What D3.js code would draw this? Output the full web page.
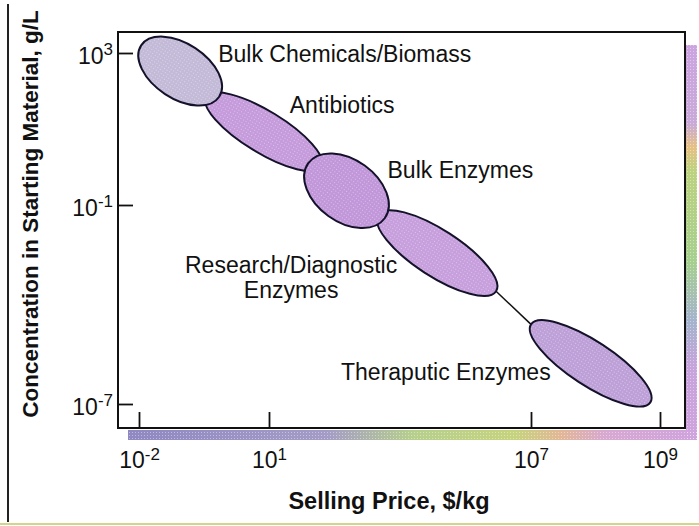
<!DOCTYPE html>
<html>
<head>
<meta charset="utf-8">
<script src="https://cdn.jsdelivr.net/npm/d3@7"></script>
<style>
  body { margin: 0; background: #fff; }
  svg { display: block; }
  text { font-family: "Liberation Sans", Arial, sans-serif; }
</style>
</head>
<body>
<svg id="chart" width="699" height="526"></svg>
<script>
// regions of the chart
const categories = ["Bulk Chemicals/Biomass", "Antibiotics", "Bulk Enzymes",
    "Research/Diagnostic Enzymes", "Theraputic Enzymes"];
// log10 selling price ($/kg) at the two tips of each region
const priceFrom = [-1.95, -0.45, 1.9, 3.5, 7.0];
const priceTo = [-0.15, 2.2, 3.65, 6.2, 8.85];
// log10 concentration (g/L) at the same tips
const concFrom = [3.2, 1.85, 0.1, -1.3, -4.6];
const concTo = [1.85, 0.0, -1.4, -3.6, -6.95];
// width of each region relative to its length
const spread = [0.59, 0.31, 0.66, 0.33, 0.31];
// axis ticks (exponents)
const xTicks = [-2, 1, 7, 9];
const yTicks = [3, -1, -7];

function getConfig() {
    const svg = d3.select("#chart");
    const frame = {left: 118, top: 32, right: 685, bottom: 428};
    return {svg, frame};
}

// the printed axes are not evenly spaced, so the scales are piecewise
function getScales() {
    const x = d3.scaleLinear().domain(xTicks).range([139, 269, 531, 660]);
    const y = d3.scaleLinear().domain(yTicks).range([53, 205, 404]);
    return {x, y};
}

function addDefs(svg) {
    const defs = svg.append("defs");
    const dots = defs.append("pattern")
        .attr("id", "dots")
        .attr("width", 3).attr("height", 3)
        .attr("patternUnits", "userSpaceOnUse");
    dots.append("rect").attr("width", 1).attr("height", 1)
        .attr("fill", "#fff").attr("opacity", 0.4);

    const bottom = defs.append("linearGradient").attr("id", "bandBottom");
    [[0, "#8f88c2"], [0.35, "#a49cc6"], [0.5, "#b6cf8c"], [0.68, "#c6d37e"],
     [0.76, "#e2b796"], [0.84, "#d7a8d2"], [1, "#cfa3dd"]].forEach(s => {
        bottom.append("stop").attr("offset", s[0]).attr("stop-color", s[1]);
    });
    const right = defs.append("linearGradient").attr("id", "bandRight")
        .attr("x1", 0).attr("y1", 0).attr("x2", 0).attr("y2", 1);
    [[0, "#cba4e0"], [0.2, "#c9a9d8"], [0.26, "#e6c182"], [0.32, "#bcd27e"],
     [0.55, "#a6cf8e"], [0.7, "#a4b3cc"], [0.82, "#c7a3dc"], [1, "#cfa3dd"]].forEach(s => {
        right.append("stop").attr("offset", s[0]).attr("stop-color", s[1]);
    });
}

function drawFrame(svg, frame) {
    // coloured halftone shadow along the right and bottom edges
    svg.append("rect")
        .attr("x", frame.right + 1).attr("y", 45)
        .attr("width", 11).attr("height", frame.bottom + 11 - 45)
        .attr("fill", "url(#bandRight)");
    svg.append("rect")
        .attr("x", 128).attr("y", frame.bottom + 2)
        .attr("width", frame.right + 12 - 128).attr("height", 10)
        .attr("fill", "url(#bandBottom)");
    svg.selectAll(".band-dots")
        .data([[frame.right + 1, 45, 11, frame.bottom + 11 - 45],
               [128, frame.bottom + 2, frame.right + 12 - 128, 10]])
        .enter()
        .append("rect")
        .attr("x", d => d[0]).attr("y", d => d[1])
        .attr("width", d => d[2]).attr("height", d => d[3])
        .attr("fill", "url(#dots)");

    svg.append("rect")
        .attr("x", frame.left).attr("y", frame.top)
        .attr("width", frame.right - frame.left)
        .attr("height", frame.bottom - frame.top)
        .attr("fill", "none")
        .attr("stroke", "#111")
        .attr("stroke-width", 2);

    // page edges of the scan
    svg.append("line")
        .attr("x1", 8).attr("x2", 8).attr("y1", 4).attr("y2", 522)
        .attr("stroke", "#222").attr("stroke-width", 2);
    svg.append("line")
        .attr("x1", 0).attr("x2", 699).attr("y1", 524).attr("y2", 524)
        .attr("stroke", "#d6d489").attr("stroke-width", 2);
}

function powerLabel(sel) {
    sel.each(function(d) {
        const t = d3.select(this).text("");
        t.append("tspan").text("10");
        t.append("tspan").attr("dy", "-0.5em").attr("font-size", 17).text(d);
    });
}

function drawAxes(svg, frame, x, y) {
    const xAxis = d3.axisBottom(x).tickValues(xTicks)
        .tickSizeInner(-16).tickSizeOuter(0).tickPadding(24);
    const gx = svg.append("g")
        .attr("transform", `translate(0,${frame.bottom})`)
        .call(xAxis);
    const yAxis = d3.axisLeft(y).tickValues(yTicks)
        .tickSizeInner(-15).tickSizeOuter(0).tickPadding(5);
    const gy = svg.append("g")
        .attr("transform", `translate(${frame.left},0)`)
        .call(yAxis);

    [gx, gy].forEach(g => {
        g.select(".domain").remove();
        g.attr("font-family", null).attr("font-size", null);
        g.selectAll(".tick line").attr("stroke", "#111").attr("stroke-width", 1.8);
        g.selectAll(".tick text")
            .attr("fill", "#111")
            .attr("font-size", 23)
            .call(powerLabel);
    });
    gy.selectAll(".tick text").attr("dy", "0.45em");

    svg.append("text")
        .attr("x", 389).attr("y", 509)
        .attr("text-anchor", "middle")
        .attr("font-size", 23.5)
        .attr("font-weight", "bold")
        .attr("fill", "#111")
        .text("Selling Price, $/kg");
    svg.append("text")
        .attr("transform", "translate(38,214) rotate(-90)")
        .attr("text-anchor", "middle")
        .attr("font-size", 22.5)
        .attr("font-weight", "bold")
        .attr("fill", "#111")
        .text("Concentration in Starting Material, g/L");
}

function drawRegions(svg, x, y) {
    const fills = ["#c3bad8", "#c59bdb", "#c197da", "#c69fdc", "#bea0d8"];
    const regions = categories.map((name, i) => {
        const p1 = [x(priceFrom[i]), y(concFrom[i])];
        const p2 = [x(priceTo[i]), y(concTo[i])];
        const dx = p2[0] - p1[0], dy = p2[1] - p1[1];
        const a = Math.hypot(dx, dy) / 2;
        return {
            name, i, p1, p2,
            cx: (p1[0] + p2[0]) / 2,
            cy: (p1[1] + p2[1]) / 2,
            rx: a,
            ry: a * spread[i],
            angle: Math.atan2(dy, dx) * 180 / Math.PI
        };
    });

    // thin line linking research and therapeutic enzymes
    svg.append("line")
        .attr("x1", regions[3].p2[0]).attr("y1", regions[3].p2[1])
        .attr("x2", regions[4].p1[0]).attr("y2", regions[4].p1[1])
        .attr("stroke", "#111").attr("stroke-width", 1.5);

    // stacking as printed: the rounder blobs sit on top
    const order = [1, 3, 4, 0, 2];
    const g = svg.selectAll("g.region")
        .data(order.map(k => regions[k]))
        .enter()
        .append("g")
        .attr("class", "region")
        .attr("transform", d => `translate(${d.cx},${d.cy}) rotate(${d.angle})`);
    g.append("ellipse")
        .attr("rx", d => d.rx).attr("ry", d => d.ry)
        .attr("fill", d => fills[d.i]);
    g.append("ellipse")
        .attr("rx", d => d.rx).attr("ry", d => d.ry)
        .attr("fill", "url(#dots)")
        .attr("stroke", "#14122a")
        .attr("stroke-width", 2);

    // labels, offset from each region's centre
    const offsets = [[38, -9, "start"], [26, -19, "start"], [41, -13, "start"],
                     [-146, 20, "middle"], [-40, 17, "end"]];
    regions.forEach(r => {
        const o = offsets[r.i];
        const t = svg.append("text")
            .attr("x", r.cx + o[0]).attr("y", r.cy + o[1])
            .attr("text-anchor", o[2])
            .attr("font-size", 23)
            .attr("fill", "#111");
        const lines = r.name === "Research/Diagnostic Enzymes"
            ? ["Research/Diagnostic", "Enzymes"] : [r.name];
        lines.forEach((line, k) => {
            t.append("tspan")
                .attr("x", r.cx + o[0])
                .attr("dy", k === 0 ? 0 : 25)
                .text(line);
        });
    });
}

function drawChart() {
    const {svg, frame} = getConfig();
    const {x, y} = getScales();
    svg.append("rect").attr("width", 699).attr("height", 526).attr("fill", "#fff");
    addDefs(svg);
    drawFrame(svg, frame);
    drawRegions(svg, x, y);
    drawAxes(svg, frame, x, y);
}

drawChart();
</script>
</body>
</html>
